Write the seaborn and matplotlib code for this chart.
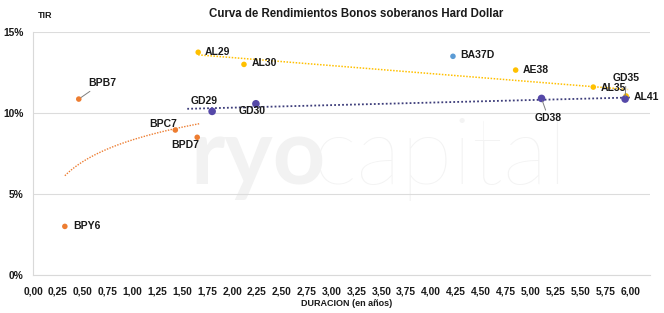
import numpy as np
import pandas as pd
import matplotlib
matplotlib.use("Agg")
import matplotlib.pyplot as plt
from matplotlib.ticker import FuncFormatter
import seaborn as sns

# datos
bonos = ["BPB7", "BPC7", "BPD7", "BPY6",
         "AL29", "AL30", "AE38", "AL35", "AL41",
         "GD29", "GD30", "GD38", "GD35",
         "BA37D"]
duracion = [0.46, 1.43, 1.65, 0.32,
            1.66, 2.12, 4.85, 5.63, 5.96,
            1.80, 2.24, 5.11, 5.95,
            4.22]
tir = [10.86, 8.95, 8.50, 3.00,
       13.75, 13.00, 12.65, 11.60, 11.05,
       10.10, 10.57, 10.90, 10.86,
       13.50]
grupo = ["BP"] * 4 + ["AL"] * 5 + ["GD"] * 4 + ["BA"]

colores = {"BP": "#ED7D31", "AL": "#FFC000", "GD": "#5548A8", "BA": "#5B9BD5"}
tamanos = {"BP": 16, "AL": 16, "GD": 30, "BA": 16}

# posicion de etiquetas (offset en pixeles, alineacion, linea guia)
etiquetas = {
    "BPB7": (9, 16, "left", True), "BPC7": (2, 6, "right", False),
    "BPD7": (-12, -8, "center", False), "BPY6": (8, 0, "left", False),
    "AL29": (7, 0, "left", False), "AL30": (8, 1, "left", False),
    "AE38": (7, 0, "left", False), "AL35": (7, -1, "left", False),
    "AL41": (8, -1, "left", False), "GD29": (-8, 10, "center", False),
    "GD30": (-4, -7, "center", False), "GD38": (7, -20, "center", True),
    "GD35": (1, 21, "center", True), "BA37D": (7, 1, "left", False),
}

df = pd.DataFrame({"Bono": bonos, "Duracion": duracion, "TIR": tir, "Grupo": grupo})

sns.set_style("white")
plt.rcParams["font.family"] = ["Liberation Sans", "DejaVu Sans"]

fig = plt.figure(figsize=(6.64, 3.13), dpi=100)
ax = fig.add_axes([33 / 664, 38 / 313, 617 / 664, 243 / 313])

# marca de agua
ax.text(190 / 664, 129 / 313, "ryo", fontsize=66, fontweight="bold", color="#f2f2f2",
        family=["Lato", "DejaVu Sans"], va="baseline", transform=fig.transFigure, zorder=0.1)
ax.text(312 / 664, 129 / 313, "capital", fontsize=68, fontweight="light", color="#f3f3f3",
        family=["Lato", "DejaVu Sans"], va="baseline", transform=fig.transFigure, zorder=0.1)

# lineas de tendencia
bp = df[df.Grupo == "BP"]
b, a = np.polyfit(np.log(bp.Duracion), bp.TIR, 1)
xs = np.linspace(bp.Duracion.min(), bp.Duracion.max() + 0.03, 60)
ax.plot(xs, a + b * np.log(xs), color=colores["BP"], lw=1.0, ls=(0, (1, 1)), zorder=2)

al = df[df.Grupo == "AL"]
m, c = np.polyfit(al.Duracion, al.TIR, 1)
xs = np.linspace(al.Duracion.min(), al.Duracion.max() + 0.02, 2)
ax.plot(xs, c + m * xs, color=colores["AL"], lw=1.1, ls=(0, (1, 1)), zorder=2)

gd = df[df.Grupo == "GD"]
m, c = np.polyfit(gd.Duracion, gd.TIR, 1)
xs = np.linspace(gd.Duracion.min() - 0.25, gd.Duracion.max() + 0.05, 2)
ax.plot(xs, c + m * xs, color="#3d3d7a", lw=1.3, ls=(0, (1, 1.2)), zorder=2)

for g in ["BP", "AL", "GD", "BA"]:
    sub = df[df.Grupo == g]
    sns.scatterplot(data=sub, x="Duracion", y="TIR", color=colores[g], s=tamanos[g],
                    edgecolor="none", ax=ax, zorder=3, legend=False)

for _, r in df.iterrows():
    dx, dy, ha, guia = etiquetas[r.Bono]
    props = dict(arrowstyle="-", color="#7f7f7f", lw=0.7, shrinkA=0, shrinkB=2) if guia else None
    ax.annotate(r.Bono, (r.Duracion, r.TIR), xytext=(dx, dy), textcoords="offset pixels",
                ha=ha, va="center", fontsize=7.5, fontweight="bold", color="#1a1a1a",
                arrowprops=props, zorder=4)

ax.set_xlim(0, 6.2)
ax.set_ylim(0, 15)
ax.set_xticks(np.arange(0, 6.01, 0.25))
ax.set_yticks([0, 5, 10, 15])
ax.xaxis.set_major_formatter(FuncFormatter(lambda v, p: f"{v:.2f}".replace(".", ",")))
ax.yaxis.set_major_formatter(FuncFormatter(lambda v, p: f"{v:.0f}%"))
ax.tick_params(axis="both", length=0, labelsize=7.4, colors="#1a1a1a")
ax.tick_params(axis="x", pad=8)
ax.tick_params(axis="y", pad=7)
for t in ax.get_xticklabels() + ax.get_yticklabels():
    t.set_fontweight("bold")
ax.grid(axis="y", color="#dcdcdc", lw=0.8)
ax.set_axisbelow(True)
for s in ["top", "right"]:
    ax.spines[s].set_visible(False)
for s in ["left", "bottom"]:
    ax.spines[s].set_color("#d9d9d9")
    ax.spines[s].set_linewidth(0.8)
ax.set_xlabel("")
ax.set_ylabel("")

fig.text(356 / 664, 1 - 14 / 313, "Curva de Rendimientos Bonos soberanos Hard Dollar",
         ha="center", va="center", fontsize=8.3, fontweight="bold", color="#1a1a1a")
fig.text(45 / 664, 1 - 15 / 313, "TIR", ha="center", va="center", fontsize=6.5,
         fontweight="bold", color="#1a1a1a")
fig.text(347 / 664, 1 - 304 / 313, "DURACION (en años)", ha="center", va="center",
         fontsize=6.5, fontweight="bold", color="#1a1a1a")

fig.savefig("out.png", dpi=100)
